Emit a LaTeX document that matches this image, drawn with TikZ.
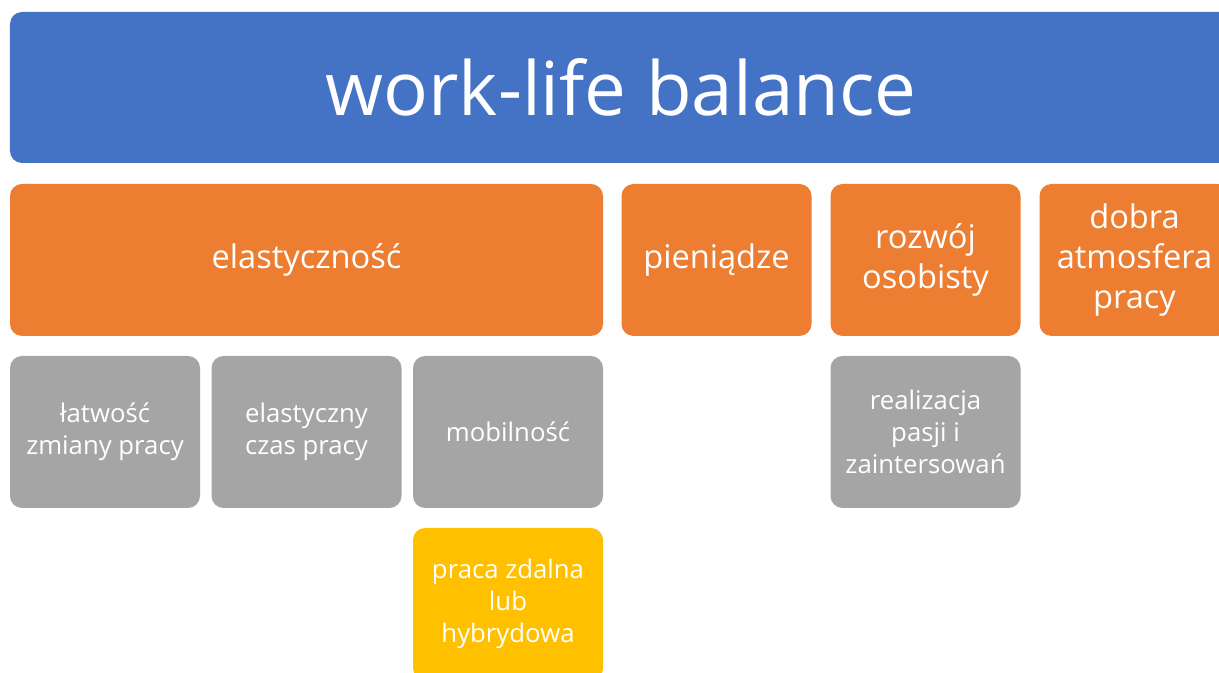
\documentclass[tikz,border=0pt]{standalone}
\usepackage{fontspec}
\setmainfont{Open Sans}
\usepackage{tikz}
\usetikzlibrary{positioning}
\definecolor{wlblue}{HTML}{4472C4}
\definecolor{wlorange}{HTML}{ED7D31}
\definecolor{wlgray}{HTML}{A5A5A5}
\definecolor{wlyellow}{HTML}{FFC000}

\begin{document}
\begin{tikzpicture}[
  tile/.style={rounded corners=0.3cm, inner sep=0pt, align=center, text=white, minimum height=3.8cm},
  head/.style={tile, fill=wlblue, minimum width=30.55cm, minimum height=3.775cm, font=\fontsize{53}{60}\selectfont},
  topic/.style={tile, fill=wlorange, minimum width=4.75cm, font=\fontsize{23.2}{28.5}\selectfont},
  detail/.style={tile, fill=wlgray, minimum width=4.75cm, font=\fontsize{18.3}{22.8}\selectfont},
  extra/.style={detail, fill=wlyellow}
]
  \useasboundingbox (0,0) rectangle (30.475,16.825);

  \node[head] (wlb) at (15.525,14.6375) {work-life balance};

  \node[topic, minimum width=14.825cm] (elast) at (7.6625,10.325) {elastyczność};
  \node[topic] (money)  at (17.9125,10.325) {pieniądze};
  \node[topic] (growth) at (23.1375,10.325) {rozwój\\osobisty};
  \node[topic] (atmos)  at (28.3625,10.325) {dobra\\atmosfera\\pracy};

  \node[detail] (easy)    at (2.625,6.025)   {łatwość\\zmiany pracy};
  \node[detail] (flex)    at (7.6625,6.025)  {elastyczny\\czas pracy};
  \node[detail] (mobile)  at (12.7,6.025)    {mobilność};
  \node[detail] (passion) at (23.1375,6.025) {realizacja\\pasji i\\zaintersowań};

  \node[extra] (remote) at (12.7,1.725) {praca zdalna\\lub\\hybrydowa};
\end{tikzpicture}
\end{document}
